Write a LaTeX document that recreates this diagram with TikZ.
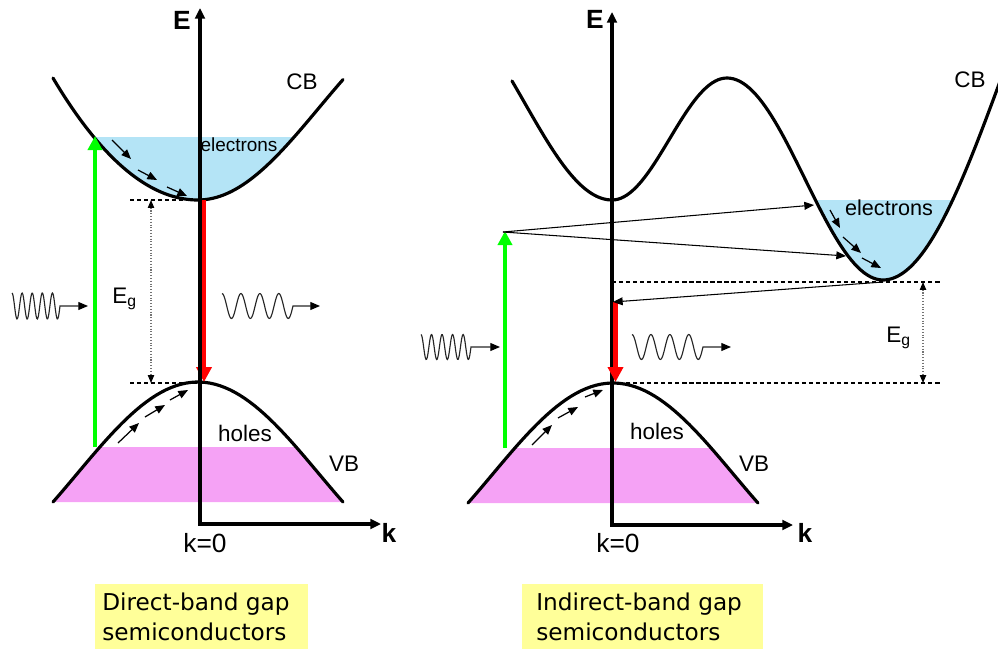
\documentclass[tikz,border=0pt]{standalone}
\usepackage{fontspec}
\setmainfont{Liberation Sans}
\newfontfamily\capfont{DejaVu Sans}
\usetikzlibrary{arrows.meta}
\definecolor{elecfill}{RGB}{180,228,246}
\definecolor{holefill}{RGB}{245,162,245}
\definecolor{capyellow}{RGB}{255,255,153}
\definecolor{lgreen}{RGB}{0,255,0}
\definecolor{lred}{RGB}{255,0,0}
\begin{document}
\begin{tikzpicture}[x=0.02cm,y=-0.02cm,
  band/.style={line width=1.8pt, line join=round, line cap=round},
  axisline/.style={line width=1.8pt, {Triangle[width=5.5pt,length=6pt]}-{Triangle[width=5.5pt,length=6pt]}},
  greenarrow/.style={draw=lgreen, line width=2.6pt, -{Triangle[width=8pt,length=8pt]}},
  redarrow/.style={draw=lred, line width=2.8pt, -{Triangle[width=8.5pt,length=8.5pt]}},
  gapline/.style={dash pattern=on 2.4pt off 1.6pt, line width=0.7pt},
  dimarrow/.style={densely dotted, draw=black!55, line width=0.6pt, {Triangle[width=3.6pt,length=4.5pt,color=black]}-{Triangle[width=3.6pt,length=4.5pt,color=black]}},
  thinarrow/.style={line width=0.6pt, -{Triangle[width=4.5pt,length=5.5pt]}},
  smallarrow/.style={line width=0.7pt, -{Triangle[width=4.5pt,length=5.5pt]}},
  photon/.style={line width=0.65pt, draw=black!85, -{Triangle[width=4.5pt,length=5.5pt,color=black]}},
  lbl/.style={inner sep=0pt, font=\fontsize{12.8}{14}\selectfont},
  axlbl/.style={inner sep=0pt, font=\fontsize{15}{17}\selectfont\bfseries},
  kzero/.style={inner sep=0pt, font=\fontsize{15}{17}\selectfont},
  capbox/.style={fill=capyellow, draw=none},
  captext/.style={inner sep=0pt, anchor=base west, font=\capfont\fontsize{13.2}{15}\selectfont}
]
\useasboundingbox (0,0) rectangle (998,649);

%================ LEFT PANEL (direct gap) =================
% electrons fill
\begin{scope}
  \clip plot[domain=53:198,samples=40] (\x,{200-0.58*((\x-198)/10)^2})
     -- plot[domain=198:343,samples=40] (\x,{200-92*(1-cos(0.7448*(\x-198)))})
     -- (343,0) -- (53,0) -- cycle;
  \fill[elecfill] (40,137) rectangle (360,210);
\end{scope}
% holes fill
\begin{scope}
  \clip plot[domain=53:343,samples=60] (\x,{382+91.7*(1-cos(0.7448*(\x-198)))}) -- cycle;
  \fill[holefill] (40,447) rectangle (360,510);
\end{scope}

% dashed levels and Eg
\coordinate (L-cbmin) at (200,200);
\coordinate (L-vbmax) at (200,383);
\coordinate (L-d1) at (130,200);
\coordinate (L-d2) at (130,383);
\draw[gapline] (L-d1) -- (L-cbmin);
\draw[gapline] (L-d2) -- (L-vbmax);
\coordinate (L-e1) at (151,200);
\coordinate (L-e2) at (151,383);
\draw[dimarrow] (L-e1) -- (L-e2);

% bands
\draw[band] plot[domain=53:198,samples=40] (\x,{200-0.58*((\x-198)/10)^2})
     -- plot[domain=198:343,samples=40] (\x,{200-92*(1-cos(0.7448*(\x-198)))});
\draw[band] plot[domain=53:343,samples=60] (\x,{382+91.7*(1-cos(0.7448*(\x-198)))});

% red transition
\coordinate (L-r1) at (204,200);
\coordinate (L-r2) at (204,382);
\draw[redarrow] (L-r1) -- (L-r2);

% axes
\coordinate (L-Etop) at (200,8);
\coordinate (L-org) at (200,524);
\coordinate (L-kend) at (381,524);
\draw[axisline] (L-Etop) -- (L-org) -- (L-kend);

% green absorption
\coordinate (L-g1) at (95,447);
\coordinate (L-g2) at (95,136);
\draw[greenarrow] (L-g1) -- (L-g2);

% small arrows CB
\coordinate (L-a1) at (112,140); \coordinate (L-a2) at (131,159);
\coordinate (L-a3) at (138,170); \coordinate (L-a4) at (157,180);
\coordinate (L-a5) at (167,187); \coordinate (L-a6) at (187,196);
\draw[smallarrow] (L-a1) -- (L-a2);
\draw[smallarrow] (L-a3) -- (L-a4);
\draw[smallarrow] (L-a5) -- (L-a6);
% small arrows VB
\coordinate (L-b1) at (118,443); \coordinate (L-b2) at (139,423);
\coordinate (L-b3) at (145,417); \coordinate (L-b4) at (165,405);
\coordinate (L-b5) at (170,400); \coordinate (L-b6) at (188,390);
\draw[smallarrow] (L-b1) -- (L-b2);
\draw[smallarrow] (L-b3) -- (L-b4);
\draw[smallarrow] (L-b5) -- (L-b6);

% photons
\coordinate (L-p1) at (88,306);
\draw[photon] plot[domain=12:60,samples=90,smooth] (\x,{306-13*cos(35.625*(\x-12))}) -- (L-p1);
\coordinate (L-p2) at (320,306);
\draw[photon] plot[domain=222:293,samples=90,smooth] (\x,{306-12.5*cos(19.014*(\x-222))}) -- (L-p2);

% labels
\node[axlbl] (L-E) at (182,20) {E};
\node[axlbl] (L-k) at (389,533) {k};
\node[kzero] (L-k0) at (205,543) {k=0};
\node[lbl] (L-CB) at (302,82) {CB};
\node[lbl] (L-VB) at (344,464) {VB};
\node[lbl] (L-holes) at (245,433) {holes};
\node[lbl, font=\fontsize{10.8}{12}\selectfont] (L-el) at (239,145) {electrons};
\node[lbl, anchor=base west] (L-Eg) at (112,303) {E\textsubscript{g}};

%================ RIGHT PANEL (indirect gap) =================
% electrons fill
\begin{scope}
  \clip plot[domain=727:883,samples=50] (\x,{179-101*cos(1.1538*(\x-727))})
     -- plot[domain=883:1000,samples=40] (\x,{280-209*(1-cos(0.7448*(\x-883)))})
     -- (1000,0) -- (727,0) -- cycle;
  \fill[elecfill] (780,200) rectangle (1000,290);
\end{scope}
% holes fill
\begin{scope}
  \clip plot[domain=468:758,samples=60] (\x,{383+91.7*(1-cos(0.7448*(\x-613)))}) -- cycle;
  \fill[holefill] (450,448) rectangle (770,510);
\end{scope}

% dashed levels and Eg
\coordinate (R-cbmin) at (883,282);
\coordinate (R-ax1) at (612,282);
\coordinate (R-d1) at (942,282);
\coordinate (R-vbmax) at (612,383);
\coordinate (R-d2) at (942,383);
\draw[gapline] (R-ax1) -- (R-d1);
\draw[gapline] (R-vbmax) -- (R-d2);
\coordinate (R-e1) at (923,282);
\coordinate (R-e2) at (923,383);
\draw[dimarrow] (R-e1) -- (R-e2);

% bands
\draw[band] plot[domain=512:612,samples=40] (\x,{200-97*(1-cos(1.0313*(612-\x)))})
  -- plot[domain=612:727,samples=40] (\x,{139+61*cos(1.5652*(\x-612))})
  -- plot[domain=727:883,samples=50] (\x,{179-101*cos(1.1538*(\x-727))})
  -- plot[domain=883:1000,samples=40] (\x,{280-209*(1-cos(0.7448*(\x-883)))});
\draw[band] plot[domain=468:758,samples=60] (\x,{383+91.7*(1-cos(0.7448*(\x-613)))});

% axes
\coordinate (R-Etop) at (612,12);
\coordinate (R-org) at (612,525);
\coordinate (R-kend) at (793,525);
\draw[axisline] (R-Etop) -- (R-org) -- (R-kend);

% red transition
\coordinate (R-r1) at (615.5,302);
\coordinate (R-r2) at (615.5,382);
\draw[redarrow] (R-r1) -- (R-r2);

% green absorption and fan
\coordinate (R-g1) at (505,448);
\coordinate (R-g2) at (505,231);
\draw[greenarrow] (R-g1) -- (R-g2);
\coordinate (R-f0) at (503,232);
\coordinate (R-f1) at (814,205);
\coordinate (R-f2) at (846,256);
\draw[thinarrow] (R-f0) -- (R-f1);
\draw[thinarrow] (R-f0) -- (R-f2);
\coordinate (R-ret) at (613,302);
\draw[thinarrow] (R-cbmin) -- (R-ret);

% small arrows CB
\coordinate (R-a1) at (830,210); \coordinate (R-a2) at (840,228);
\coordinate (R-a3) at (843,237); \coordinate (R-a4) at (861,253);
\coordinate (R-a5) at (862,258); \coordinate (R-a6) at (881,268);
\draw[smallarrow] (R-a1) -- (R-a2);
\draw[smallarrow] (R-a3) -- (R-a4);
\draw[smallarrow] (R-a5) -- (R-a6);
% small arrows VB
\coordinate (R-b1) at (532,445); \coordinate (R-b2) at (552,425);
\coordinate (R-b3) at (558,418); \coordinate (R-b4) at (578,407);
\coordinate (R-b5) at (585,397); \coordinate (R-b6) at (603,390);
\draw[smallarrow] (R-b1) -- (R-b2);
\draw[smallarrow] (R-b3) -- (R-b4);
\draw[smallarrow] (R-b5) -- (R-b6);

% photons
\coordinate (R-p1) at (500,347);
\draw[photon] plot[domain=421:471,samples=90,smooth] (\x,{347-12.5*cos(34.2*(\x-421))}) -- (R-p1);
\coordinate (R-p2) at (731,347);
\draw[photon] plot[domain=632:703,samples=90,smooth] (\x,{347-12.5*cos(19.014*(\x-632))}) -- (R-p2);

% labels
\node[axlbl] (R-E) at (595,19) {E};
\node[axlbl] (R-k) at (805,533) {k};
\node[kzero] (R-k0) at (618,543) {k=0};
\node[lbl] (R-CB) at (970,80) {CB};
\node[lbl] (R-VB) at (754,464) {VB};
\node[lbl] (R-holes) at (657,431) {holes};
\node[lbl, font=\fontsize{12.3}{14}\selectfont] (R-el) at (889,208) {electrons};
\node[lbl, anchor=base west] (R-Eg) at (886,342) {E\textsubscript{g}};

%================ CAPTIONS =================
\fill[capbox] (95,584) rectangle (308,649);
\node[captext] (C-l1) at (102,610) {Direct-band gap};
\node[captext] (C-l2) at (102,640) {semiconductors};
\fill[capbox] (522,584) rectangle (763,649);
\node[captext] (C-r1) at (536,610) {Indirect-band gap};
\node[captext] (C-r2) at (536,640) {semiconductors};
\end{tikzpicture}
\end{document}
